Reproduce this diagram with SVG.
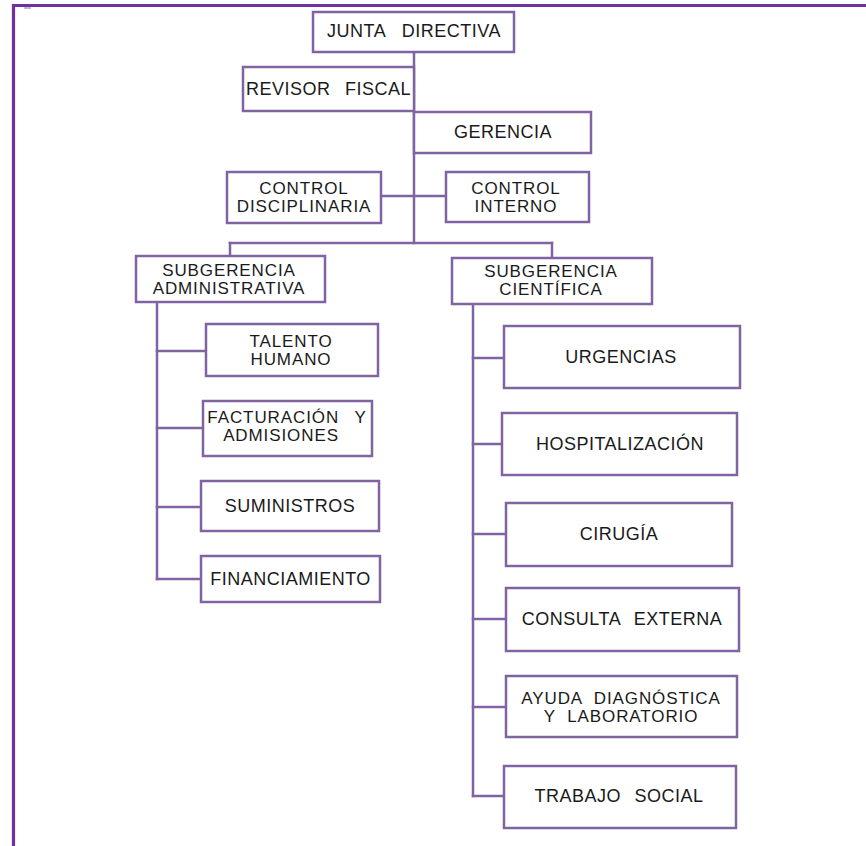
<svg xmlns="http://www.w3.org/2000/svg" width="866" height="846" viewBox="0 0 866 846">
  <style>
    .box { fill: #ffffff; stroke: #8064A2; stroke-width: 2.5; }
    .lbl { font-family: "Liberation Sans", Arial, sans-serif; font-size: 18px; fill: #1a1a1a; text-anchor: middle; letter-spacing: 0.5px; word-spacing: 6px; }
    .two { font-size: 17px; letter-spacing: 0.9px; }
    .conn line { stroke: #8064A2; stroke-width: 2.5; stroke-linecap: square; }
  </style>
  <rect x="0" y="0" width="866" height="846" fill="#ffffff"/>
  <!-- page frame -->
  <path d="M13.5 846 V5.5 H866" fill="none" stroke="#7030A0" stroke-width="3.2"/>
  <line x1="24" y1="8" x2="31" y2="8" stroke="#6a6a8a" stroke-width="1.5" opacity="0.6"/>

  <!-- connectors -->
  <g id="connectors" class="conn">
    <line x1="414" y1="52" x2="414" y2="243"/>
    <line x1="381" y1="196" x2="446" y2="196"/>
    <line x1="230" y1="243" x2="552" y2="243"/>
    <line x1="230" y1="243" x2="230" y2="256"/>
    <line x1="552" y1="243" x2="552" y2="258"/>
    <line x1="157" y1="302" x2="157" y2="579"/>
    <line x1="157" y1="351" x2="206" y2="351"/>
    <line x1="157" y1="428" x2="203" y2="428"/>
    <line x1="157" y1="507" x2="201" y2="507"/>
    <line x1="157" y1="579" x2="201" y2="579"/>
    <line x1="473" y1="304" x2="473" y2="796"/>
    <line x1="473" y1="358" x2="504" y2="358"/>
    <line x1="473" y1="444" x2="502" y2="444"/>
    <line x1="473" y1="534" x2="506" y2="534"/>
    <line x1="473" y1="619" x2="506" y2="619"/>
    <line x1="473" y1="707" x2="506" y2="707"/>
    <line x1="473" y1="796" x2="504" y2="796"/>
  </g>

  <g id="junta-directiva">
    <rect class="box" x="313" y="12" width="201" height="40"/>
    <text class="lbl" x="414" y="37" style="word-spacing:11px">JUNTA DIRECTIVA</text>
  </g>
  <g id="revisor-fiscal">
    <rect class="box" x="243" y="67" width="171" height="44"/>
    <text class="lbl" x="328.5" y="95" style="word-spacing:9px">REVISOR FISCAL</text>
  </g>
  <g id="gerencia">
    <rect class="box" x="414" y="112" width="177" height="41"/>
    <text class="lbl" x="503" y="138">GERENCIA</text>
  </g>
  <g id="control-disciplinaria">
    <rect class="box" x="227" y="172" width="154" height="51"/>
    <text class="lbl two" x="304" y="194">CONTROL</text>
    <text class="lbl two" x="304" y="212">DISCIPLINARIA</text>
  </g>
  <g id="control-interno">
    <rect class="box" x="446" y="172" width="143" height="50"/>
    <text class="lbl two" x="516" y="194">CONTROL</text>
    <text class="lbl two" x="516" y="212">INTERNO</text>
  </g>
  <g id="subgerencia-administrativa">
    <rect class="box" x="136" y="256" width="189" height="46"/>
    <text class="lbl two" x="229" y="276">SUBGERENCIA</text>
    <text class="lbl two" x="229" y="294">ADMINISTRATIVA</text>
  </g>
  <g id="subgerencia-cientifica">
    <rect class="box" x="452" y="258" width="200" height="46"/>
    <text class="lbl two" x="551" y="277">SUBGERENCIA</text>
    <text class="lbl two" x="551" y="295">CIENTÍFICA</text>
  </g>
  <g id="talento-humano">
    <rect class="box" x="206" y="324" width="172" height="52"/>
    <text class="lbl two" x="291" y="346.5">TALENTO</text>
    <text class="lbl two" x="291" y="364.5">HUMANO</text>
  </g>
  <g id="facturacion-admisiones">
    <rect class="box" x="203" y="401" width="169" height="55"/>
    <text class="lbl two" x="287" y="423" style="word-spacing:10px">FACTURACIÓN Y</text>
    <text class="lbl two" x="281" y="441">ADMISIONES</text>
  </g>
  <g id="suministros">
    <rect class="box" x="201" y="481" width="178" height="50"/>
    <text class="lbl" x="290" y="512">SUMINISTROS</text>
  </g>
  <g id="financiamiento">
    <rect class="box" x="201" y="556" width="179" height="46"/>
    <text class="lbl" x="290.5" y="585">FINANCIAMIENTO</text>
  </g>
  <g id="urgencias">
    <rect class="box" x="504" y="326" width="236" height="62"/>
    <text class="lbl" x="621" y="363">URGENCIAS</text>
  </g>
  <g id="hospitalizacion">
    <rect class="box" x="502" y="413" width="235" height="62"/>
    <text class="lbl" x="620" y="450">HOSPITALIZACIÓN</text>
  </g>
  <g id="cirugia">
    <rect class="box" x="506" y="503" width="226" height="63"/>
    <text class="lbl" x="619" y="540">CIRUGÍA</text>
  </g>
  <g id="consulta-externa">
    <rect class="box" x="506" y="588" width="233" height="63"/>
    <text class="lbl" x="622" y="625" style="word-spacing:8px">CONSULTA EXTERNA</text>
  </g>
  <g id="ayuda-diagnostica">
    <rect class="box" x="506" y="676" width="231" height="61"/>
    <text class="lbl two" x="621" y="703.5">AYUDA DIAGNÓSTICA</text>
    <text class="lbl two" x="621" y="721.5">Y LABORATORIO</text>
  </g>
  <g id="trabajo-social">
    <rect class="box" x="504" y="766" width="232" height="62"/>
    <text class="lbl" x="619" y="802" style="word-spacing:8px">TRABAJO SOCIAL</text>
  </g>
</svg>
